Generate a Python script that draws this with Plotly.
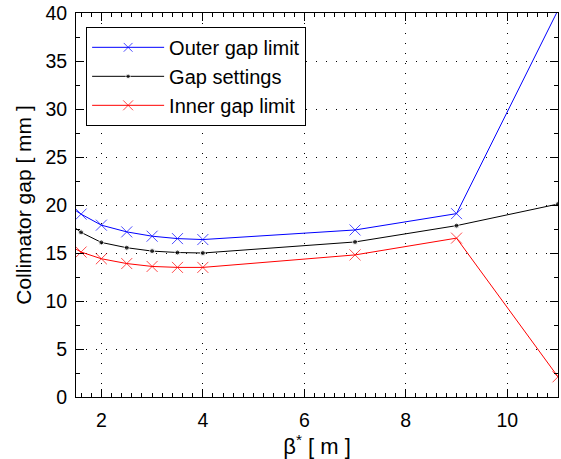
import plotly.graph_objects as go

beta = [1.5, 1.6, 2, 2.5, 3, 3.5, 4, 7, 9, 11]
outer = [19.4, 19.05, 17.9, 17.2, 16.75, 16.5, 16.4, 17.4, 19.1, 40.3]
gap = [17.55, 17.15, 16.1, 15.55, 15.2, 15.05, 15.0, 16.15, 17.85, 20.1]
inner = [15.4, 15.1, 14.4, 13.9, 13.6, 13.5, 13.5, 14.8, 16.55, 2.1]

names = ["Outer gap limit", "Gap settings", "Inner gap limit"]
xrange = [1.5, 11]
yrange = [0, 40]

FONT = "Liberation Sans, Arial, sans-serif"


def sizes(ys, s):
    # hide markers whose centre lies outside the visible axes (MATLAB-like clipping)
    out = []
    for x, y in zip(beta, ys):
        inside = (xrange[0] < x <= xrange[1]) and (yrange[0] <= y <= yrange[1])
        out.append(s if inside else 0)
    return out


fig = go.Figure()
fig.add_trace(go.Scatter(
    x=beta, y=outer, name=names[0], mode="lines+markers",
    line=dict(color="#0000ff", width=1),
    marker=dict(symbol="x-thin", size=sizes(outer, 11), color="#0000ff",
                line=dict(color="#0000ff", width=1)),
))
fig.add_trace(go.Scatter(
    x=beta, y=gap, name=names[1], mode="lines+markers",
    line=dict(color="#000000", width=1),
    marker=dict(symbol="circle", size=sizes(gap, 5), color="#000000"),
))
fig.add_trace(go.Scatter(
    x=beta, y=inner, name=names[2], mode="lines+markers",
    line=dict(color="#ff0000", width=1),
    marker=dict(symbol="x-thin", size=sizes(inner, 11), color="#ff0000",
                line=dict(color="#ff0000", width=1)),
))

axis_common = dict(
    showline=True, linecolor="black", linewidth=1, mirror="ticks",
    ticks="inside", tickcolor="black", ticklen=8, tickwidth=1,
    showgrid=True, gridcolor="black", gridwidth=1, griddash="1px,9px",
    zeroline=False,
    tickfont=dict(family=FONT, size=19.5, color="black"),
)

fig.update_xaxes(
    range=xrange, tickvals=[2, 4, 6, 8, 10],
    minor=dict(dtick=0.2, tick0=0, ticks="inside", ticklen=4, tickcolor="black", showgrid=False),
    title=dict(text="β<sup>*</sup> [ m ]", font=dict(family=FONT, size=22, color="black"), standoff=1),
    ticklabelstandoff=6,
    **axis_common,
)
fig.update_yaxes(
    range=yrange, tickvals=[0, 5, 10, 15, 20, 25, 30, 35, 40],
    minor=dict(dtick=2.5, tick0=0, ticks="inside", ticklen=4, tickcolor="black", showgrid=False),
    title=dict(text="Collimator gap [ mm ]", font=dict(family=FONT, size=21, color="black"), standoff=8),
    ticklabelstandoff=4,
    **axis_common,
)

fig.update_layout(
    width=561, height=459,
    margin=dict(l=76, r=3, t=13, b=62),
    paper_bgcolor="white", plot_bgcolor="white",
    showlegend=True,
    legend=dict(
        x=0.021, y=0.964, xanchor="left", yanchor="top",
        bgcolor="white", bordercolor="black", borderwidth=1,
        font=dict(family=FONT, size=20, color="black"),
        itemwidth=72, tracegroupgap=0,
    ),
)

fig.write_html("out.html", config={"displayModeBar": False},
               post_script="document.body.style.margin='0';")
